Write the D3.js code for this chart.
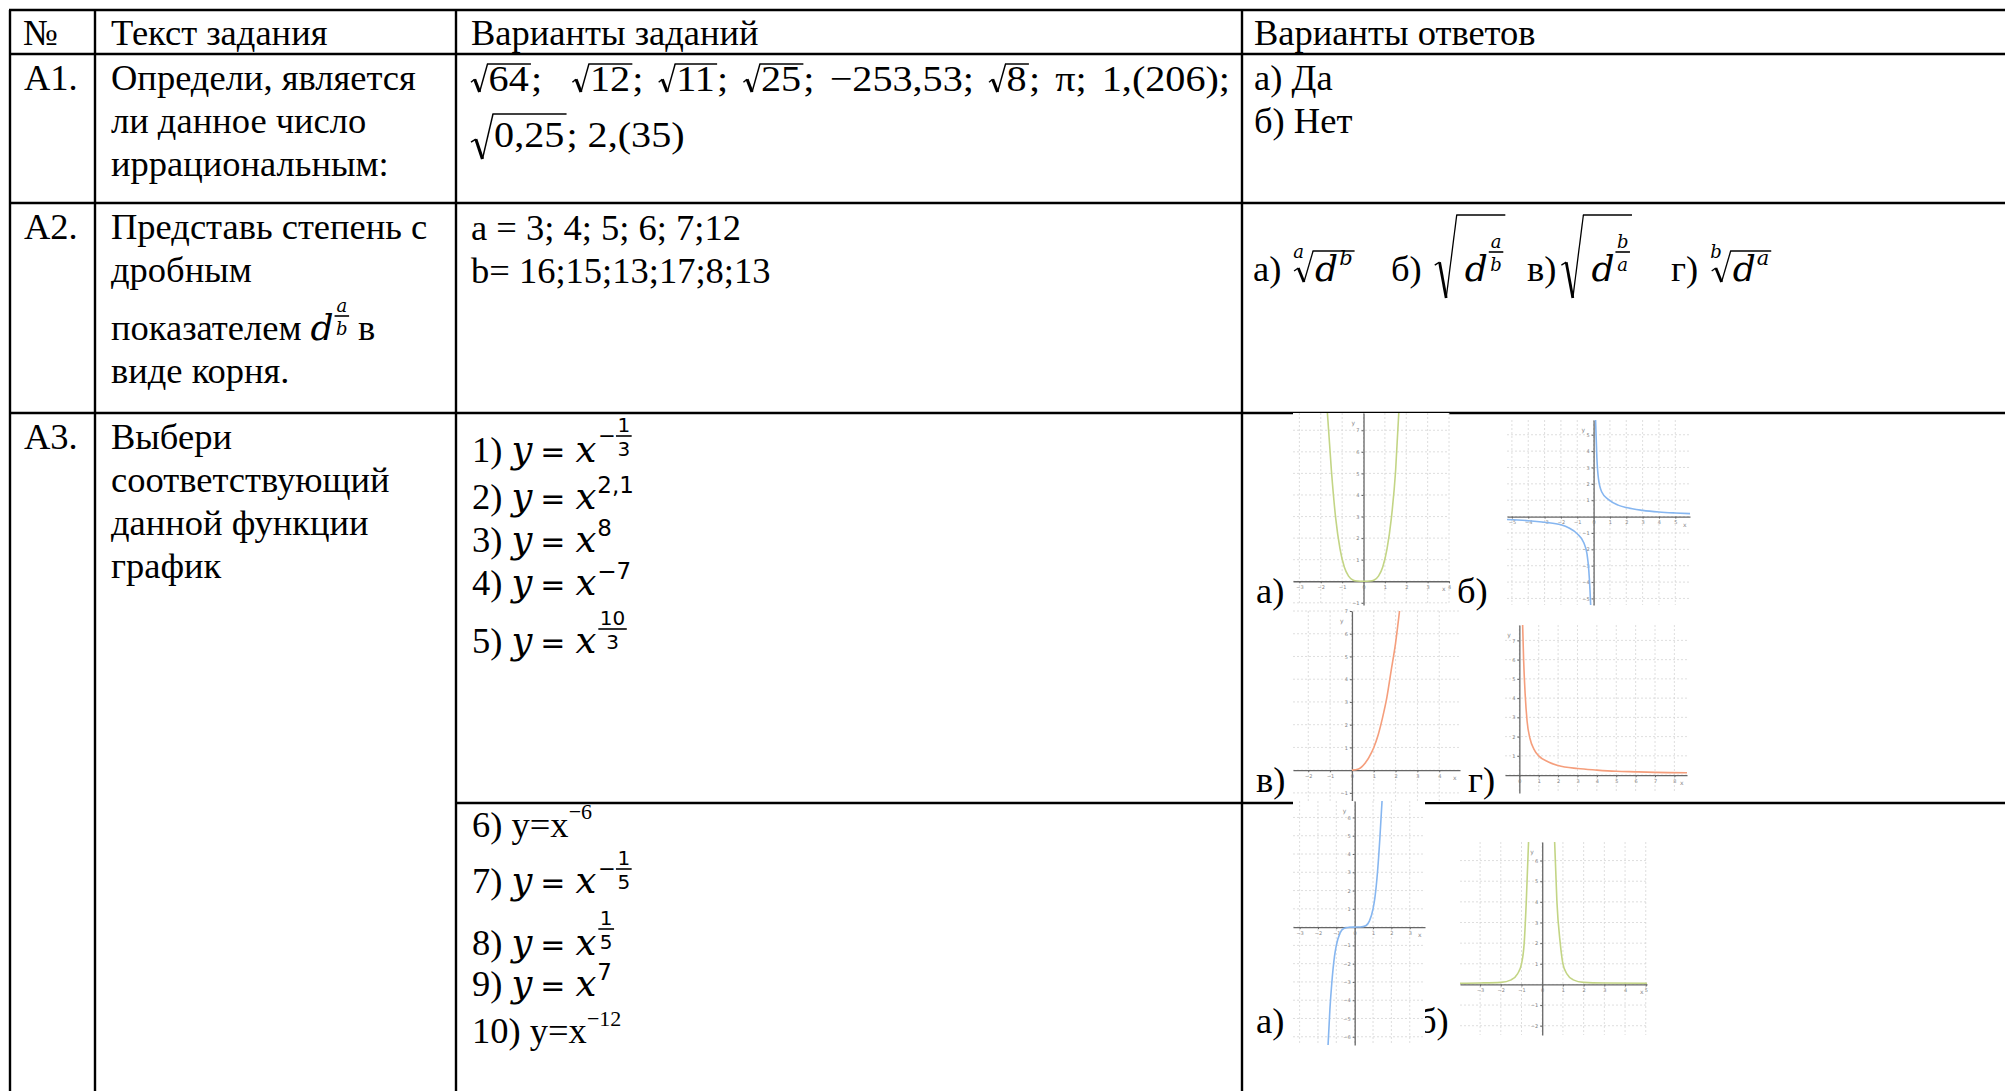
<!DOCTYPE html>
<html>
<head>
<meta charset="utf-8">
<script src="https://cdn.jsdelivr.net/npm/d3@7"></script>
<style>
  body { margin: 0; background: #fff; }
  svg { display: block; }
  text { white-space: pre; }
</style>
</head>
<body>
<script>
var W = 2005;
var H = 1091;

// table text
var headers = ["№", "Текст задания", "Варианты заданий", "Варианты ответов"];
var taskIds = ["A1.", "A2.", "A3."];
var task1Lines = ["Определи, является", "ли данное число", "иррациональным:"];
var task2Lines = ["Представь степень с", "дробным", "показателем", "виде корня."];
var task3Lines = ["Выбери", "соответствующий", "данной функции", "график"];
var roots1 = ["64", "12", "11", "25"];
var plain1 = ["−253,53"];
var roots2 = ["8"];
var tail1 = ["π", "1,(206)"];
var bigRoot = "0,25";
var tail2 = "2,(35)";
var aValues = [3, 4, 5, 6, 7, 12];
var bValues = [16, 15, 13, 17, 8, 13];
var answers1 = ["а) Да", "б) Нет"];
var answerLetters = ["а)", "б)", "в)", "г)"];
var graphLetters = ["а)", "б)", "в)", "г)", "а)", "б)"];

var curveA = [[-1.69, 7.8], [-1.5, 5.1], [-1.3, 2.9], [-1.1, 1.5], [-0.9, 0.66], [-0.7, 0.24], [-0.5, 0.06], [-0.3, 0.01], [0, 0],
              [0.3, 0.01], [0.5, 0.06], [0.7, 0.24], [0.9, 0.66], [1.1, 1.5], [1.3, 2.9], [1.5, 5.1], [1.65, 7.8]];
var curveBLeft = [[-5.3, -0.18], [-4, -0.25], [-3, -0.35], [-2, -0.5], [-1.5, -0.7], [-1, -1.05], [-0.6, -1.6], [-0.4, -2.3], [-0.3, -3.2], [-0.22, -4.5], [-0.18, -5.4]];
var curveBRight = [[0.12, 5.9], [0.2, 3.6], [0.3, 2.3], [0.5, 1.5], [0.9, 1.05], [1.5, 0.7], [2, 0.55], [3, 0.38], [4, 0.28], [5, 0.22], [5.9, 0.18]];
var curveC = [[0, 0], [0.3, 0.05], [0.6, 0.3], [0.9, 0.78], [1, 1], [1.2, 1.55], [1.4, 2.3], [1.6, 3.2], [1.8, 4.4], [2, 5.6], [2.18, 7]];
var curveD = [[0.17, 7.8], [0.22, 6], [0.3, 4.2], [0.4, 2.8], [0.55, 1.9], [0.75, 1.35], [1, 1], [1.5, 0.68], [2, 0.5], [3, 0.34], [4, 0.26], [5, 0.2], [6, 0.17], [7, 0.14], [8.65, 0.12]];
var curveE = [[-1.45, -6.45], [-1.35, -4.5], [-1.25, -3.1], [-1.1, -1.6], [-1, -1], [-0.8, -0.33], [-0.6, -0.08], [-0.3, -0.01], [0, 0],
              [0.3, 0.01], [0.6, 0.08], [0.8, 0.33], [1, 1], [1.1, 1.6], [1.25, 3.1], [1.38, 5], [1.49, 6.9]];
var curveFLeft = [[-3.97, 0.06], [-3, 0.07], [-2, 0.1], [-1.5, 0.22], [-1.2, 0.5], [-1, 1], [-0.87, 2], [-0.77, 4], [-0.66, 6.9]];
var curveFRight = [[0.6, 6.9], [0.71, 4], [0.87, 2], [1, 1], [1.2, 0.5], [1.5, 0.22], [2, 0.1], [3, 0.07], [5.06, 0.06]];

var FS = 36.5;
var FONT = {
    r: ["Liberation Serif", "normal"],
    i: ["DejaVu Serif", "italic"],
    n: ["DejaVu Sans", "normal"]
};

var svg = d3.select("body").append("svg").attr("width", W).attr("height", H);
svg.append("rect").attr("width", W).attr("height", H).attr("fill", "#fff");

// ---------- table grid ----------
var colX = [10, 95, 456, 1242];
var rowY = [10, 54, 203, 413];
var grid = svg.append("g").attr("stroke", "#000").attr("stroke-width", 2.4);
rowY.forEach(function(y) {
    grid.append("line").attr("x1", colX[0] - 1).attr("x2", W).attr("y1", y).attr("y2", y);
});
grid.append("line").attr("x1", colX[2]).attr("x2", W).attr("y1", 803).attr("y2", 803);
colX.forEach(function(x) {
    grid.append("line").attr("x1", x).attr("x2", x).attr("y1", rowY[0]).attr("y2", H);
});

// ---------- text helpers ----------
function txt(g, x, y, t, f, s) {
    return g.append("text").attr("x", x).attr("y", y)
        .attr("font-family", FONT[f][0]).attr("font-style", FONT[f][1])
        .attr("font-size", s).attr("fill", "#000").text(t);
}
function wid(sel) { return sel.node().getComputedTextLength(); }

function line(x, y, sx) {
    return svg.append("g").attr("transform", "translate(" + x + "," + y + ") scale(" + (sx || 1) + ",1)");
}

function radical(g, x, top, bot, w) {
    var mid = bot - (bot - top) * 0.42;
    g.append("path").attr("d", "M" + x + "," + (mid + 2) + "L" + (x + w * 0.22) + "," + (mid - 1))
        .attr("stroke", "#000").attr("stroke-width", 1.3).attr("fill", "none");
    g.append("path").attr("d", "M" + (x + w * 0.22) + "," + (mid - 1) + "L" + (x + w * 0.52) + "," + bot)
        .attr("stroke", "#000").attr("stroke-width", 2.8).attr("fill", "none");
    g.append("path").attr("d", "M" + (x + w * 0.52) + "," + bot + "L" + (x + w) + "," + top)
        .attr("stroke", "#000").attr("stroke-width", 1.3).attr("fill", "none");
}

// lay items out left to right inside a line group
function run(g, items, x0, space) {
    var cx = x0 || 0;
    var sp = space || 9;
    items.forEach(function(it) {
        cx += it.gap || 0;
        if (it.sp) {
            cx += it.sp * sp;
        } else if (it.frac) {
            var s = it.s || 20, f = it.f || "n";
            var a = txt(g, 0, it.bar - 4, it.frac[0], f, s);
            var b = txt(g, 0, it.bar + s * 0.75 + 5, it.frac[1], f, s);
            var wa = wid(a), wb = wid(b), w = Math.max(wa, wb) + 3;
            a.attr("x", cx + (w - wa) / 2);
            b.attr("x", cx + (w - wb) / 2);
            g.append("line").attr("x1", cx).attr("x2", cx + w).attr("y1", it.bar).attr("y2", it.bar)
                .attr("stroke", "#000").attr("stroke-width", 1.6);
            cx += w;
        } else if (it.rad) {
            radical(g, cx, it.top, it.bot, it.w);
            var end = run(g, it.rad, cx + it.w + 1, sp);
            g.append("line").attr("x1", cx + it.w - 0.5).attr("x2", end + 2).attr("y1", it.top).attr("y2", it.top)
                .attr("stroke", "#000").attr("stroke-width", 1.5);
            cx = end + 2;
        } else {
            var t = txt(g, cx, it.dy || 0, it.t, it.f || "r", it.s || FS);
            cx += wid(t);
        }
    });
    return cx;
}

// justified line: spaces are stretched so the line ends at xEnd
function justify(x, y, items, xEnd, sx) {
    var probe = line(x, y, sx);
    var natural = run(probe, items, 0, 9);
    probe.remove();
    var n = d3.sum(items, function(it) { return it.sp || 0; });
    var space = 9 + ((xEnd - x) / sx - natural) / n;
    run(line(x, y, sx), items, 0, space);
}

function smallRoot(r) { return {rad: [{t: r}], top: -27, bot: 1, w: 15}; }

// ---------- header ----------
var headX = [23, 111, 471, 1254];
headers.forEach(function(h, i) { run(line(headX[i], 45), [{t: h}]); });

// ---------- column 1 ----------
var idY = [90, 239, 449];
taskIds.forEach(function(t, i) { run(line(24, idY[i]), [{t: t}]); });

// ---------- column 2 ----------
task1Lines.forEach(function(t, i) { run(line(111, 90 + i * 43), [{t: t}]); });
run(line(111, 239), [{t: task2Lines[0]}]);
run(line(111, 282), [{t: task2Lines[1]}]);
run(line(111, 340), [{t: task2Lines[2]}, {sp: 1}, {t: "d", f: "i", s: 36},
    {frac: ["a", "b"], f: "i", s: 18, bar: -24, gap: 1}, {sp: 1}, {t: "в"}]);
run(line(111, 383), [{t: task2Lines[3]}]);
task3Lines.forEach(function(t, i) { run(line(111, 449 + i * 43), [{t: t}]); });

// ---------- column 3, A1 ----------
var l1 = [];
roots1.forEach(function(r, i) {
    l1.push(smallRoot(r));
    l1.push({t: ";"});
    l1.push({sp: i === 0 ? 2 : 1});
});
plain1.forEach(function(p) { l1.push({t: p + ";"}); l1.push({sp: 1}); });
roots2.forEach(function(r) { l1.push(smallRoot(r)); l1.push({t: ";"}); l1.push({sp: 1}); });
tail1.forEach(function(p, i) {
    l1.push({t: p + ";"});
    if (i < tail1.length - 1) l1.push({sp: 1});
});
justify(471, 91, l1, 1230, 1.1);
run(line(471, 147, 1.1), [{rad: [{t: bigRoot}], top: -33, bot: 12, w: 20}, {t: ";"}, {sp: 1}, {t: tail2}]);

// ---------- column 3, A2 ----------
run(line(471, 240), [{t: "a = " + aValues.slice(0, -1).join("; ") + ";" + aValues[aValues.length - 1]}]);
run(line(471, 283), [{t: "b= " + bValues.join(";")}]);

// ---------- column 3, A3 formulas ----------
function yx() {
    return [{t: "y", f: "i", s: 37, gap: 9}, {t: "=", f: "n", s: 30, gap: 8}, {t: "x", f: "i", s: 37, gap: 10}];
}
function sup(t) { return {t: t, f: "n", s: 23, dy: -16, gap: 1}; }
function negFrac(n, d, bar) { return [{t: "−", f: "n", s: 21, dy: bar + 7, gap: 2}, {frac: [n, d], s: 20, bar: bar}]; }

run(line(472, 462), [{t: "1)"}].concat(yx(), negFrac("1", "3", -26)));
run(line(472, 509), [{t: "2)"}].concat(yx(), [sup("2,1")]));
run(line(472, 552), [{t: "3)"}].concat(yx(), [sup("8")]));
run(line(472, 595), [{t: "4)"}].concat(yx(), [sup("−7")]));
run(line(472, 653), [{t: "5)"}].concat(yx(), [{frac: ["10", "3"], s: 20, bar: -24, gap: 2}]));

run(line(472, 837), [{t: "6) y=x"}, {t: "−6", s: 22, dy: -18}]);
run(line(472, 893), [{t: "7)"}].concat(yx(), negFrac("1", "5", -24)));
run(line(472, 955), [{t: "8)"}].concat(yx(), [{frac: ["1", "5"], s: 20, bar: -26, gap: 2}]));
run(line(472, 996), [{t: "9)"}].concat(yx(), [sup("7")]));
run(line(472, 1043), [{t: "10) y=x"}, {t: "−12", s: 22, dy: -17}]);

// ---------- column 4, A1 & A2 ----------
answers1.forEach(function(t, i) { run(line(1254, 90 + i * 43), [{t: t}]); });

function dsup(s) { return [{t: "d", f: "i", s: 36, gap: 1}, {t: s, f: "i", s: 21, dy: -16, gap: 1}]; }
function dfrac(n, d) { return [{t: "d", f: "i", s: 36, gap: 7}, {frac: [n, d], f: "i", s: 18, bar: -29, gap: 1}]; }
var ansX = [1253, 1391, 1527, 1671];
run(line(ansX[0], 281), [{t: answerLetters[0]}, {t: "a", f: "i", s: 18, dy: -23, gap: 12},
    {rad: dsup("b"), top: -30, bot: 1, w: 19, gap: -10}]);
run(line(ansX[1], 281), [{t: answerLetters[1]}, {rad: dfrac("a", "b"), top: -66, bot: 17, w: 22, gap: 13}]);
run(line(ansX[2], 281), [{t: answerLetters[2]}, {rad: dfrac("b", "a"), top: -66, bot: 17, w: 22, gap: 5}]);
run(line(ansX[3], 281), [{t: answerLetters[3]}, {t: "b", f: "i", s: 18, dy: -23, gap: 12},
    {rad: dsup("a"), top: -30, bot: 1, w: 19, gap: -10}]);

// ---------- thumbnails ----------
var GREEN = "#c3d585", BLUE = "#86b6f0", ORANGE = "#f59e7c";
var graphs = [
    {box: [1293, 413, 1449, 605], xd: [-3.3, 4.0], yd: [-1.1, 7.8], curves: [curveA], color: GREEN},
    {box: [1507, 420, 1690, 605], xd: [-5.3, 5.9], yd: [-5.4, 5.9], curves: [curveBLeft, curveBRight], color: BLUE},
    {box: [1293, 611, 1460, 802], xd: [-2.7, 4.95], yd: [-1.4, 7.0], curves: [curveC], color: ORANGE},
    {box: [1505, 625, 1687, 793], xd: [-0.74, 8.65], yd: [-0.93, 7.8], curves: [curveD], color: ORANGE},
    {box: [1293, 801, 1425, 1045], xd: [-3.36, 3.83], yd: [-6.45, 6.9], curves: [curveE], color: BLUE},
    {box: [1460, 842, 1647, 1035], xd: [-3.97, 5.06], yd: [-2.45, 6.9], curves: [curveFLeft, curveFRight], color: GREEN}
];
var letterPos = [[1256, 603], [1457, 603], [1256, 792], [1468, 792], [1256, 1033], [1418, 1033]];

// letters first so the lower graph can cover part of the last one
graphLetters.forEach(function(t, i) { run(line(letterPos[i][0], letterPos[i][1]), [{t: t}]); });

graphs.forEach(function(gr, k) {
    var b = gr.box;
    var g = svg.append("g");
    var x = d3.scaleLinear().domain(gr.xd).range([b[0], b[2]]);
    var y = d3.scaleLinear().domain(gr.yd).range([b[3], b[1]]);
    g.append("rect").attr("x", b[0]).attr("y", b[1]).attr("width", b[2] - b[0]).attr("height", b[3] - b[1]).attr("fill", "#fff");

    var xt = d3.range(Math.ceil(gr.xd[0]), Math.floor(gr.xd[1]) + 1);
    var yt = d3.range(Math.ceil(gr.yd[0]), Math.floor(gr.yd[1]) + 1);
    g.selectAll(".gx").data(xt).join("line")
        .attr("x1", function(d) { return x(d); }).attr("x2", function(d) { return x(d); })
        .attr("y1", b[1]).attr("y2", b[3])
        .attr("stroke", "#d6d6d6").attr("stroke-width", 0.8).attr("stroke-dasharray", "2,2");
    g.selectAll(".gy").data(yt).join("line")
        .attr("x1", b[0]).attr("x2", b[2])
        .attr("y1", function(d) { return y(d); }).attr("y2", function(d) { return y(d); })
        .attr("stroke", "#d6d6d6").attr("stroke-width", 0.8).attr("stroke-dasharray", "2,2");

    var ax = g.append("g").attr("transform", "translate(0," + y(0) + ")")
        .call(d3.axisBottom(x).tickValues(xt).tickSize(2).tickSizeOuter(0).tickPadding(2).tickFormat(d3.format("d")));
    var ay = g.append("g").attr("transform", "translate(" + x(0) + ",0)")
        .call(d3.axisLeft(y).tickValues(yt.filter(function(v) { return v !== 0; })).tickSize(2).tickSizeOuter(0).tickPadding(2).tickFormat(d3.format("d")));
    [ax, ay].forEach(function(a) {
        a.select(".domain").attr("stroke", "#666").attr("stroke-width", 1.3);
        a.selectAll(".tick line").attr("stroke", "#666");
        a.selectAll("text").attr("font-size", 5).attr("fill", "#888").attr("font-family", "DejaVu Sans");
    });
    g.append("text").attr("x", b[2] - 7).attr("y", y(0) + 10).attr("font-size", 6).attr("fill", "#888")
        .attr("font-family", "DejaVu Sans").text("x");
    g.append("text").attr("x", x(0) - 12).attr("y", b[1] + 12).attr("font-size", 6).attr("fill", "#888")
        .attr("font-family", "DejaVu Sans").text("y");

    var clipId = "clip" + k;
    svg.append("clipPath").attr("id", clipId).append("rect")
        .attr("x", b[0]).attr("y", b[1]).attr("width", b[2] - b[0]).attr("height", b[3] - b[1]);
    var ln = d3.line().x(function(d) { return x(d[0]); }).y(function(d) { return y(d[1]); }).curve(d3.curveMonotoneX);
    g.selectAll(".curve").data(gr.curves).join("path")
        .attr("d", ln).attr("fill", "none").attr("stroke", gr.color).attr("stroke-width", 1.6)
        .attr("clip-path", "url(#" + clipId + ")");
});
</script>
</body>
</html>
